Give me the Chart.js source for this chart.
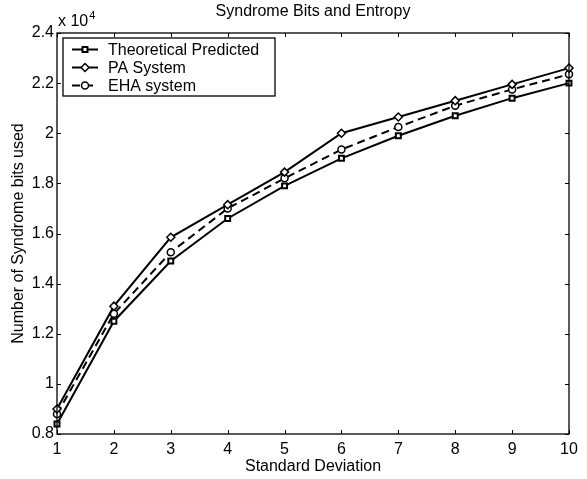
<!DOCTYPE html>
<html>
<head>
<meta charset="utf-8">
<style>
  html, body { margin: 0; padding: 0; background: #fff; }
  #wrap { width: 587px; height: 479px; }
</style>
<script src="https://cdn.jsdelivr.net/npm/chart.js@4"></script>
</head>
<body>
<div id="wrap"><canvas id="syndromeChart" width="587" height="479"></canvas></div>
<script>
// --- data (values are raw counts, axis shows x 10^4) ---
const stdDev = [1, 2, 3, 4, 5, 6, 7, 8, 9, 10];
const theoretical = [8400, 12500, 14900, 16600, 17900, 19000, 19900, 20700, 21400, 22000];
const paSystem    = [9000, 13100, 15850, 17150, 18450, 20000, 20650, 21300, 21950, 22600];
const ehaSystem   = [8800, 12800, 15250, 17000, 18200, 19350, 20250, 21100, 21750, 22350];
const yTicks = [8000, 10000, 12000, 14000, 16000, 18000, 20000, 22000, 24000];

const FONT = '"Liberation Sans", Arial, Helvetica, sans-serif';

function toPoints(values) {
    return stdDev.map((x, i) => ({ x: x, y: values[i] }));
}

// frame, inward ticks, titles and legend drawn like the matlab figure
const matlabFrame = {
    id: 'matlabFrame',
    afterDraw(chart) {
        const ctx = chart.ctx;
        const a = chart.chartArea;
        const xs = chart.scales.x;
        const ys = chart.scales.y;
        ctx.save();

        // axes box
        ctx.strokeStyle = '#000';
        ctx.lineWidth = 1.3;
        ctx.strokeRect(a.left, a.top, a.right - a.left, a.bottom - a.top);

        // inward ticks on all four sides
        ctx.lineWidth = 1;
        const tl = 4;
        ctx.beginPath();
        stdDev.forEach(v => {
            const px = Math.round(xs.getPixelForValue(v)) + 0.5;
            ctx.moveTo(px, a.bottom); ctx.lineTo(px, a.bottom - tl);
            ctx.moveTo(px, a.top); ctx.lineTo(px, a.top + tl);
        });
        yTicks.forEach(v => {
            const py = Math.round(ys.getPixelForValue(v)) + 0.5;
            ctx.moveTo(a.left, py); ctx.lineTo(a.left + tl, py);
            ctx.moveTo(a.right, py); ctx.lineTo(a.right - tl, py);
        });
        ctx.stroke();

        // title
        ctx.fillStyle = '#000';
        ctx.textAlign = 'center';
        ctx.textBaseline = 'middle';
        ctx.font = '16px ' + FONT;
        ctx.fillText('Syndrome Bits and Entropy', (a.left + a.right) / 2, 12);

        // x axis title
        ctx.fillText('Standard Deviation', (a.left + a.right) / 2, 467);

        // y axis title
        ctx.save();
        ctx.translate(19, (a.top + a.bottom) / 2);
        ctx.rotate(-Math.PI / 2);
        ctx.fillText('Number of Syndrome bits used', 0, 0);
        ctx.restore();

        // exponent "x 10^4"
        ctx.textAlign = 'left';
        ctx.fillText('x 10', 58, 22);
        const w = ctx.measureText('x 10').width;
        ctx.font = '11px ' + FONT;
        ctx.fillText('4', 58 + w + 1, 16);

        // legend box
        const lx = 63, ly = 38, lw = 212, lh = 58;
        ctx.fillStyle = '#fff';
        ctx.fillRect(lx, ly, lw, lh);
        ctx.lineWidth = 1.3;
        ctx.strokeStyle = '#000';
        ctx.strokeRect(lx, ly, lw, lh);

        ctx.font = '16px ' + FONT;
        chart.data.datasets.forEach((ds, i) => {
            const cy = 49.5 + i * 18;
            ctx.strokeStyle = '#000';
            ctx.lineWidth = ds.borderWidth;
            ctx.setLineDash(ds.borderDash || []);
            ctx.beginPath();
            ctx.moveTo(72, cy);
            ctx.lineTo(98, cy);
            ctx.stroke();
            ctx.setLineDash([]);
            ctx.fillStyle = '#fff';
            ctx.strokeStyle = '#000';
            ctx.lineWidth = ds.pointBorderWidth;
            Chart.helpers.drawPoint(ctx, {
                pointStyle: ds.pointStyle,
                radius: ds.pointRadius,
                borderWidth: ds.pointBorderWidth,
                rotation: 0
            }, 85, cy);
            ctx.fillStyle = '#000';
            ctx.textBaseline = 'middle';
            ctx.fillText(ds.label, 108, cy + 1);
        });

        ctx.restore();
    }
};

const ctx = document.getElementById('syndromeChart').getContext('2d');

const syndromeChart = new Chart(ctx, {
    type: 'line',
    data: {
        datasets: [
            {
                label: 'Theoretical Predicted',
                data: toPoints(theoretical),
                borderColor: '#000',
                borderWidth: 2,
                pointStyle: 'rect',
                pointRadius: 3.5,
                pointBorderWidth: 2,
                pointBackgroundColor: '#fff',
                pointBorderColor: '#000',
                tension: 0,
                clip: false
            },
            {
                label: 'PA System',
                data: toPoints(paSystem),
                borderColor: '#000',
                borderWidth: 2,
                pointStyle: 'rectRot',
                pointRadius: 4,
                pointBorderWidth: 1.5,
                pointBackgroundColor: '#fff',
                pointBorderColor: '#000',
                tension: 0,
                clip: false
            },
            {
                label: 'EHA system',
                data: toPoints(ehaSystem),
                borderColor: '#000',
                borderWidth: 2,
                borderDash: [8, 5],
                pointStyle: 'circle',
                pointRadius: 3.5,
                pointBorderWidth: 1.5,
                pointBackgroundColor: '#fff',
                pointBorderColor: '#000',
                tension: 0,
                clip: false
            }
        ]
    },
    options: {
        responsive: false,
        animation: false,
        events: [],
        layout: { padding: { top: 33, right: 18, left: 0, bottom: 0 } },
        plugins: {
            legend: { display: false },
            title: { display: false },
            tooltip: { enabled: false }
        },
        scales: {
            x: {
                type: 'linear',
                min: 1,
                max: 10,
                grid: { display: false, drawTicks: false },
                border: { display: false },
                ticks: {
                    stepSize: 1,
                    padding: 6,
                    color: '#000',
                    font: { family: FONT, size: 16 }
                },
                afterFit(scale) { scale.height = 45; }
            },
            y: {
                min: 8000,
                max: 24000,
                grid: { display: false, drawTicks: false },
                border: { display: false },
                ticks: {
                    stepSize: 2000,
                    padding: 3,
                    color: '#000',
                    font: { family: FONT, size: 16 },
                    callback: v => String(+(v / 10000).toFixed(1))
                },
                afterFit(scale) { scale.width = 57; }
            }
        }
    },
    plugins: [matlabFrame]
});
</script>
</body>
</html>
